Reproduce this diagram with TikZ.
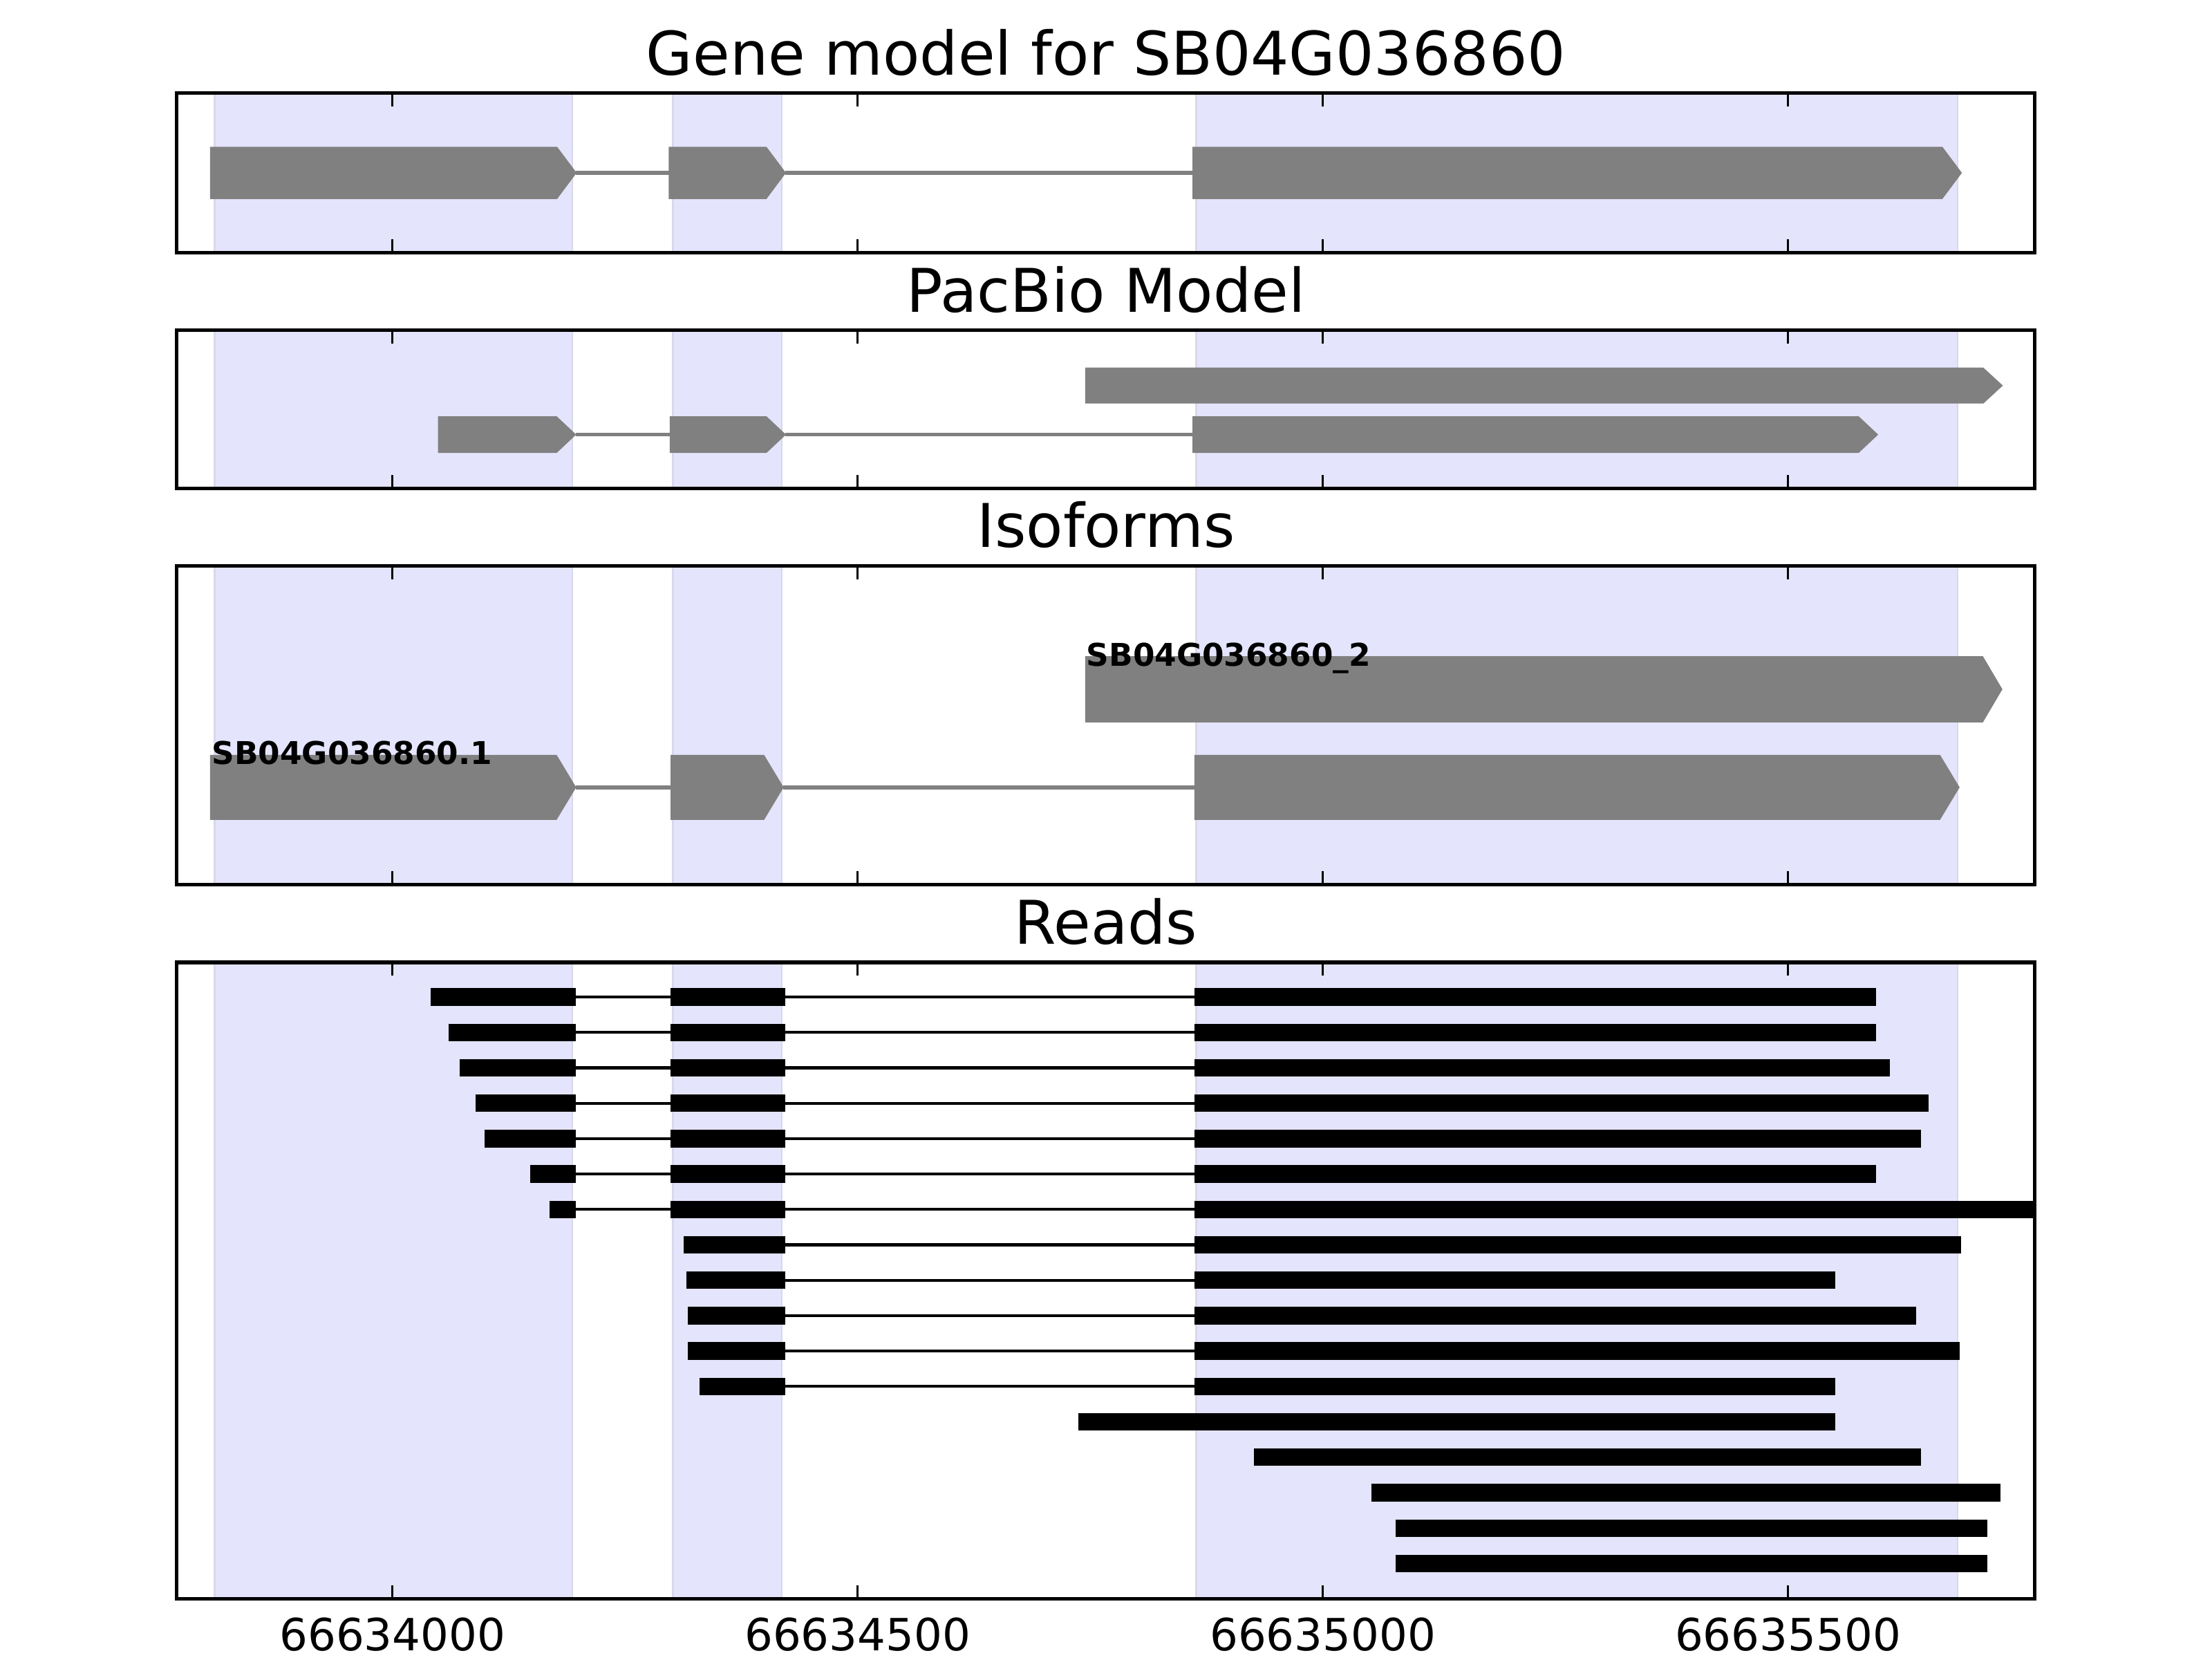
\documentclass[tikz,border=0pt]{standalone}
\usepackage{fontspec}
\setmainfont{DejaVu Sans}
% exon drawn as an arrow: start, tip, top, bottom
\newcommand{\genearrow}[4]{%
  \fill[exonbox] (#1,#3) -- ({#2-21},#3) -- (#2,{(#3+#4)/2}) -- ({#2-21},#4) -- (#1,#4) -- cycle;}
% light exon bands across a panel: top, bottom
\newcommand{\exonbands}[2]{%
  \draw[exonspan] (-191.4,#1) rectangle (193.3,#2);
  \draw[exonspan] (301.5,#1) rectangle (418.5,#2);
  \draw[exonspan] (864.2,#1) rectangle (1682.4,#2);}
% inward ticks of a panel: top, bottom
\newcommand{\paneltics}[2]{%
  \draw[axtick] (0,#1) -- (0,#1+9.5) (500,#1) -- (500,#1+9.5) (1000,#1) -- (1000,#1+9.5) (1500,#1) -- (1500,#1+9.5);
  \draw[axtick] (0,#2) -- (0,#2-9.5) (500,#2) -- (500,#2-9.5) (1000,#2) -- (1000,#2-9.5) (1500,#2) -- (1500,#2-9.5);}
\begin{document}
\begin{tikzpicture}[x=0.0102041cm,y=-0.0102041cm]
                % Define styles for different elements
                \tikzstyle{panel} = [draw=black, line width=0.75pt]
                \tikzstyle{exonspan} = [fill={rgb,255:red,228;green,228;blue,252}, draw={rgb,255:red,216;green,216;blue,234}, line width=0.4pt]
                \tikzstyle{exonbox} = [fill=gray]
                \tikzstyle{intron} = [draw=gray, line width=0.8pt]
                \tikzstyle{readexon} = [draw=black, line width=3.6pt]
                \tikzstyle{readintron} = [draw=black, line width=0.6pt]
                \tikzstyle{axtick} = [draw=black, line width=0.4pt]
                \tikzstyle{paneltitle} = [font=\fontsize{12.4}{14}\selectfont, anchor=base, inner sep=0pt]
                \tikzstyle{ticklabel} = [font=\fontsize{9.14}{11}\selectfont, anchor=base, inner sep=0pt]
                \tikzstyle{isolabel} = [font=\bfseries\fontsize{6.45}{8}\selectfont, anchor=base west, inner sep=0pt]

                \useasboundingbox (0,0) rectangle (1568,1176);

                % x in bp from 66634000, y in pixels from the top
                \begin{scope}[shift={(278.2,0)}, xscale=0.65947]

                % Gene model
                \exonbands{66}{179}
                \paneltics{66}{179}
                \draw[intron] (197,122.5) -- (298,122.5) (422,122.5) -- (861,122.5);
                \genearrow{-196}{198}{104}{141}
                \genearrow{297}{423}{104}{141}
                \genearrow{860}{1687}{104}{141}
                \draw[panel] (-232,66) rectangle (1765.4,179);
                \node[paneltitle] (titlegene) at (767,53) {Gene model for SB04G036860};

                % PacBio model
                \exonbands{234}{346}
                \paneltics{234}{346}
                \genearrow{744.6}{1731}{260.5}{286}
                \draw[intron] (197,308) -- (299,308) (422,308) -- (861,308);
                \genearrow{49}{197.5}{295}{321}
                \genearrow{298}{423}{295}{321}
                \genearrow{860}{1597}{295}{321}
                \draw[panel] (-232,234) rectangle (1765.4,346);
                \node[paneltitle] (titlepacbio) at (767,221) {PacBio Model};

                % Isoforms
                \exonbands{401}{627}
                \paneltics{401}{627}
                \genearrow{744.6}{1730.5}{465}{512}
                \draw[intron] (197,558) -- (300,558) (420,558) -- (862,558);
                \genearrow{-196}{197.5}{535}{581}
                \genearrow{299}{420.5}{535}{581}
                \genearrow{862}{1684.5}{535}{581}
                \node[isolabel] (isoone) at (-195,541.5) {SB04G036860.1};
                \node[isolabel] (isotwo) at (745,472.3) {SB04G036860\_2};
                \draw[panel] (-232,401) rectangle (1765.4,627);
                \node[paneltitle] (titleiso) at (767,388) {Isoforms};

                % Reads
                \exonbands{682}{1133}
                \paneltics{682}{1133}
                \draw[readintron] (197,706.6) -- (862,706.6);
                \draw[readexon] (41,706.6) -- (197,706.6) (299,706.6) -- (422,706.6) (862,706.6) -- (1595,706.6);
                \draw[readintron] (197,731.7) -- (862,731.7);
                \draw[readexon] (60,731.7) -- (197,731.7) (299,731.7) -- (422,731.7) (862,731.7) -- (1595,731.7);
                \draw[readintron] (197,756.8) -- (862,756.8);
                \draw[readexon] (72,756.8) -- (197,756.8) (299,756.8) -- (422,756.8) (862,756.8) -- (1609.5,756.8);
                \draw[readintron] (197,781.9) -- (862,781.9);
                \draw[readexon] (89,781.9) -- (197,781.9) (299,781.9) -- (422,781.9) (862,781.9) -- (1651,781.9);
                \draw[readintron] (197,807) -- (862,807);
                \draw[readexon] (99,807) -- (197,807) (299,807) -- (422,807) (862,807) -- (1643,807);
                \draw[readintron] (197,832) -- (862,832);
                \draw[readexon] (148,832) -- (197,832) (299,832) -- (422,832) (862,832) -- (1595,832);
                \draw[readintron] (197,857.1) -- (862,857.1);
                \draw[readexon] (169,857.1) -- (197,857.1) (299,857.1) -- (422,857.1) (862,857.1) -- (1765.4,857.1);
                \draw[readintron] (422,882.2) -- (862,882.2);
                \draw[readexon] (313,882.2) -- (422,882.2) (862,882.2) -- (1686,882.2);
                \draw[readintron] (422,907.3) -- (862,907.3);
                \draw[readexon] (316,907.3) -- (422,907.3) (862,907.3) -- (1550.5,907.3);
                \draw[readintron] (422,932.4) -- (862,932.4);
                \draw[readexon] (317.5,932.4) -- (422,932.4) (862,932.4) -- (1638,932.4);
                \draw[readintron] (422,957.5) -- (862,957.5);
                \draw[readexon] (317.5,957.5) -- (422,957.5) (862,957.5) -- (1684.5,957.5);
                \draw[readintron] (422,982.6) -- (862,982.6);
                \draw[readexon] (330,982.6) -- (422,982.6) (862,982.6) -- (1550.5,982.6);
                \draw[readexon] (737,1007.7) -- (1550.5,1007.7);
                \draw[readexon] (925.6,1032.8) -- (1643,1032.8);
                \draw[readexon] (1052,1057.9) -- (1728.4,1057.9);
                \draw[readexon] (1078,1083) -- (1714.4,1083);
                \draw[readexon] (1078,1108) -- (1714.4,1108);
                \draw[panel] (-232,682) rectangle (1765.4,1133);
                \node[paneltitle] (titlereads) at (767,669) {Reads};

                % Tick labels under the last panel
                \node[ticklabel] (tickA) at (0,1170) {66634000};
                \node[ticklabel] (tickB) at (500,1170) {66634500};
                \node[ticklabel] (tickC) at (1000,1170) {66635000};
                \node[ticklabel] (tickD) at (1500,1170) {66635500};
                \end{scope}
            \end{tikzpicture}
\end{document}
